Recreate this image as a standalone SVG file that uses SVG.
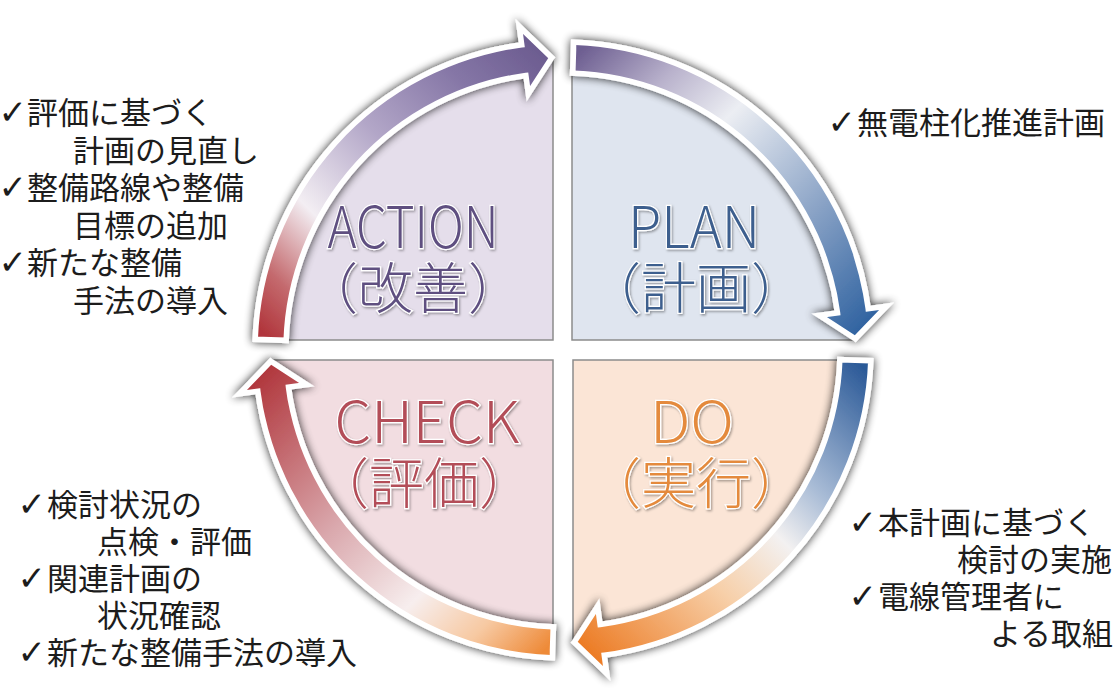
<svg xmlns="http://www.w3.org/2000/svg" xmlns:xlink="http://www.w3.org/1999/xlink" width="1117" height="689" viewBox="0 0 1117 689">
<defs>
<style>
.note{font-family:"Noto Sans CJK JP","Noto Sans CJK SC",sans-serif;font-size:31px;fill:#1c1c1c}
.chk{font-family:"DejaVu Sans",sans-serif;font-size:34px;fill:#1c1c1c;text-anchor:end}
.title{font-family:"Noto Sans CJK JP","Noto Sans CJK SC",sans-serif;font-size:58px;font-weight:300;text-anchor:middle;paint-order:stroke;stroke:#ffffff;stroke-width:2.5px;filter:url(#tshadow)}
.sub{font-family:"Noto Sans CJK JP","Noto Sans CJK SC",sans-serif;font-size:55px;font-weight:300;text-anchor:middle;paint-order:stroke;stroke:#ffffff;stroke-width:2.5px;filter:url(#tshadow)}
.quad{stroke:#8c8c8c;stroke-width:1.5px}
.arrow{stroke:#ffffff;stroke-width:5.5px;stroke-linejoin:miter;stroke-miterlimit:10}
</style>
<filter id="tshadow" x="-10%" y="-20%" width="120%" height="140%">
<feDropShadow dx="1.2" dy="1.5" stdDeviation="1" flood-color="#000" flood-opacity="0.35"/>
</filter>
<filter id="ringShadow" x="-20%" y="-20%" width="140%" height="140%">
<feGaussianBlur in="SourceAlpha" stdDeviation="5"/>
<feComponentTransfer><feFuncA type="linear" slope="0.85"/></feComponentTransfer>
<feMerge><feMergeNode/><feMergeNode in="SourceGraphic"/></feMerge>
</filter>
<linearGradient id="gA" gradientUnits="userSpaceOnUse" x1="271" y1="340" x2="552" y2="58">
<stop offset="0" stop-color="#b1363c"/><stop offset="0.12" stop-color="#c46a6e"/><stop offset="0.3" stop-color="#f3eef3"/><stop offset="0.55" stop-color="#b3a7c8"/><stop offset="0.8" stop-color="#8576a6"/><stop offset="1" stop-color="#6b5b8f"/>
</linearGradient>
<linearGradient id="gP" gradientUnits="userSpaceOnUse" x1="271" y1="340" x2="552" y2="58">
<stop offset="0" stop-color="#6d5e91"/><stop offset="0.2" stop-color="#b9b2cc"/><stop offset="0.38" stop-color="#eceef3"/><stop offset="0.7" stop-color="#8aa3c6"/><stop offset="1" stop-color="#2f62a0"/>
</linearGradient>
<linearGradient id="gD" gradientUnits="userSpaceOnUse" x1="271" y1="340" x2="552" y2="58">
<stop offset="0" stop-color="#2c5a98"/><stop offset="0.3" stop-color="#a9bcd6"/><stop offset="0.45" stop-color="#f3f1f1"/><stop offset="0.65" stop-color="#f7cfa8"/><stop offset="1" stop-color="#ec7a22"/>
</linearGradient>
<linearGradient id="gC" gradientUnits="userSpaceOnUse" x1="271" y1="340" x2="552" y2="58">
<stop offset="0" stop-color="#ee8a38"/><stop offset="0.15" stop-color="#f7c9a2"/><stop offset="0.32" stop-color="#f7eeee"/><stop offset="0.6" stop-color="#d9a6ab"/><stop offset="1" stop-color="#b0353b"/>
</linearGradient>
<path id="arc" class="arrow" d="M255.19,339.25 A308,308 0 0 1 521.73,44.78 L519.25,26.45 L551.77,57.72 L528.36,93.83 L525.89,75.5 A277,277 0 0 0 286.17,340.33 Z"/>
</defs>
<rect width="1117" height="689" fill="#ffffff"/>

<g id="action">
<path class="quad" fill="#e5deeb" d="M553,340 L553,58.2 A292,292 0 0 0 271.2,340 Z"/>
<text class="title" x="413" y="248" fill="#5e4f80" textLength="171" lengthAdjust="spacingAndGlyphs">ACTION</text>
<text class="sub" x="413" y="308" fill="#5e4f80">（改善）</text>
</g>
<g id="plan">
<path class="quad" fill="#dfe5ef" d="M572,340 L572,58.1 A292,292 0 0 1 854.8,340 Z"/>
<text class="title" x="694" y="248" fill="#3e5f8e" textLength="132" lengthAdjust="spacingAndGlyphs">PLAN</text>
<text class="sub" x="696" y="308" fill="#3e5f8e">（計画）</text>
</g>
<g id="do">
<path class="quad" fill="#fbe5d6" d="M573,360 L854.8,360 A292,292 0 0 1 573,641.8 Z"/>
<text class="title" x="692" y="443" fill="#e48a3c" textLength="84" lengthAdjust="spacingAndGlyphs">DO</text>
<text class="sub" x="696" y="503" fill="#e48a3c">（実行）</text>
</g>
<g id="check">
<path class="quad" fill="#f2dde1" d="M553,360 L553,641.8 A292,292 0 0 1 271.2,360 Z"/>
<text class="title" x="427" y="443" fill="#b34d58" textLength="185" lengthAdjust="spacingAndGlyphs">CHECK</text>
<text class="sub" x="424" y="503" fill="#b34d58">（評価）</text>
</g>

<g id="connectors">
<use xlink:href="#arc" fill="url(#gA)" filter="url(#ringShadow)"/>
<use xlink:href="#arc" fill="url(#gP)" filter="url(#ringShadow)" transform="rotate(90 563 350)"/>
<use xlink:href="#arc" fill="url(#gD)" filter="url(#ringShadow)" transform="rotate(180 563 350)"/>
<use xlink:href="#arc" fill="url(#gC)" filter="url(#ringShadow)" transform="rotate(270 563 350)"/>
</g>

<g id="notes-action">
<text class="chk" x="27" y="124">✓</text><text class="note" x="27" y="124">評価に基づく</text>
<text class="note" x="73" y="161.5">計画の見直し</text>
<text class="chk" x="27" y="199">✓</text><text class="note" x="27" y="199">整備路線や整備</text>
<text class="note" x="73" y="236.5">目標の追加</text>
<text class="chk" x="27" y="274">✓</text><text class="note" x="27" y="274">新たな整備</text>
<text class="note" x="73" y="311.5">手法の導入</text>
</g>
<g id="notes-plan">
<text class="chk" x="856" y="134">✓</text><text class="note" x="857" y="134">無電柱化推進計画</text>
</g>
<g id="notes-do">
<text class="chk" x="877" y="534">✓</text><text class="note" x="878" y="534">本計画に基づく</text>
<text class="note" x="957" y="571">検討の実施</text>
<text class="chk" x="877" y="608">✓</text><text class="note" x="878" y="608">電線管理者に</text>
<text class="note" x="990" y="645">よる取組</text>
</g>
<g id="notes-check">
<text class="chk" x="46" y="516">✓</text><text class="note" x="47" y="516">検討状況の</text>
<text class="note" x="97" y="553">点検・評価</text>
<text class="chk" x="46" y="590">✓</text><text class="note" x="47" y="590">関連計画の</text>
<text class="note" x="97" y="627">状況確認</text>
<text class="chk" x="46" y="664">✓</text><text class="note" x="47" y="664">新たな整備手法の導入</text>
</g>
</svg>
